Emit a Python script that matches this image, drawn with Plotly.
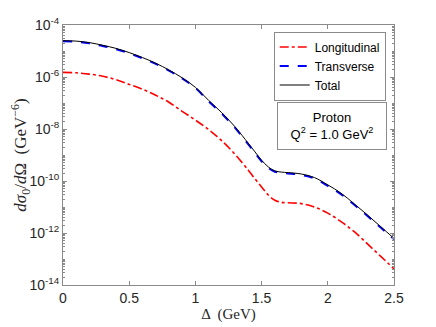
import plotly.graph_objects as go

# values
delta = [0, 0.1, 0.2, 0.3, 0.4, 0.5, 0.6, 0.7, 0.8, 0.9, 1.0, 1.1, 1.2, 1.3, 1.4,
         1.45, 1.5, 1.55, 1.6, 1.65, 1.7, 1.8, 1.9, 2.0, 2.1, 2.2, 2.3, 2.4, 2.5]

longitudinal = [1.51e-6, 1.45e-6, 1.29e-6, 1.07e-6, 7.9e-7, 5.2e-7, 3.4e-7, 2.0e-7,
                1.07e-7, 4.8e-8, 2.2e-8, 9.5e-9, 3.5e-9, 1.05e-9, 2.6e-10,
                1.2e-10, 5.9e-11, 2.9e-11, 1.82e-11, 1.51e-11, 1.45e-11, 1.35e-11,
                1.0e-11, 5.8e-12, 2.75e-12, 1.12e-12, 3.8e-13, 1.26e-13, 4.2e-14]

transverse = [2.35e-5, 2.26e-5, 1.97e-5, 1.55e-5, 1.18e-5, 8.2e-6, 5.26e-6, 3.2e-6,
              1.75e-6, 8.8e-7, 3.78e-7, 1.17e-7, 3.85e-8, 1.1e-8, 2.54e-9,
              1.2e-9, 5.7e-10, 3.2e-10, 2.27e-10, 2.05e-10, 1.95e-10, 1.72e-10,
              1.25e-10, 6.5e-11, 3.1e-11, 1.21e-11, 4.5e-12, 1.61e-12, 5.8e-13]

total = [2.5e-5, 2.4e-5, 2.1e-5, 1.66e-5, 1.26e-5, 8.7e-6, 5.6e-6, 3.4e-6,
         1.86e-6, 9.3e-7, 4.0e-7, 1.26e-7, 4.2e-8, 1.2e-8, 2.8e-9,
         1.32e-9, 6.3e-10, 3.5e-10, 2.45e-10, 2.2e-10, 2.1e-10, 1.86e-10,
         1.35e-10, 7.1e-11, 3.4e-11, 1.32e-11, 4.9e-12, 1.74e-12, 6.2e-13]

x_ticks = [0, 0.5, 1, 1.5, 2, 2.5]
x_ticktext = ["0", "0.5", "1", "1.5", "2", "2.5"]
y_ticks = [1e-4, 1e-6, 1e-8, 1e-10, 1e-12, 1e-14]
y_ticktext = ["10<sup>-4</sup>", "10<sup>-6</sup>", "10<sup>-8</sup>",
              "10<sup>-10</sup>", "10<sup>-12</sup>", "10<sup>-14</sup>"]

# log minor ticks 2..9 in every decade plus the odd decades
y_minor = [m * 10.0 ** e for e in range(-14, -4) for m in range(2, 10)]
y_minor += [10.0 ** e for e in (-13, -11, -9, -7, -5)]

sans = "Liberation Sans, Arial, sans-serif"
serif = "Liberation Serif, DejaVu Serif, serif"
axis_col = "#8a8a8a"
text_col = "#262626"

fig = go.Figure()
fig.add_trace(go.Scatter(x=delta, y=longitudinal, name="Longitudinal", mode="lines",
                         line=dict(color="#ff0000", width=1.6, dash="dashdot", shape="spline")))
fig.add_trace(go.Scatter(x=delta, y=transverse, name="Transverse", mode="lines",
                         line=dict(color="#0000ff", width=2, dash="dash", shape="spline")))
fig.add_trace(go.Scatter(x=delta, y=total, name="Total", mode="lines",
                         line=dict(color="#000000", width=1, shape="spline")))

# the page body has an 8px margin, so the figure is 8px smaller and margins shifted
fig.update_layout(
    width=428, height=319,
    margin=dict(l=55, r=42, t=17, b=42, autoexpand=False),
    plot_bgcolor="white", paper_bgcolor="white",
    font=dict(family=sans, size=14, color=text_col),
    legend=dict(x=0.975, y=0.975, xanchor="right", yanchor="top",
                bgcolor="white", bordercolor=axis_col, borderwidth=1,
                font=dict(size=12, color="#000000"), tracegroupgap=0,
                itemwidth=30),
    showlegend=True,
)

fig.update_xaxes(
    range=[0, 2.5], tickvals=x_ticks, ticktext=x_ticktext,
    ticks="inside", ticklen=4, tickcolor=axis_col, automargin=False,
    showline=True, linecolor=axis_col, linewidth=1, mirror="ticks",
    showgrid=False, zeroline=False,
    title=dict(text="Δ  (GeV)", font=dict(family=serif, size=15, color=text_col), standoff=2),
)

fig.update_yaxes(
    type="log", range=[-14, -4], tickvals=y_ticks, ticktext=y_ticktext,
    ticks="inside", ticklen=4, tickcolor=axis_col, automargin=False,
    showline=True, linecolor=axis_col, linewidth=1, mirror="ticks",
    showgrid=False, zeroline=False,
    minor=dict(ticks="inside", ticklen=2, tickcolor=axis_col, tickmode="array",
               tickvals=y_minor, showgrid=False),
    title=dict(text="<i>dσ</i><sub>0</sub>/<i>d</i>Ω  (GeV<sup>−6</sup>)",
               font=dict(family=serif, size=17, color=text_col), standoff=2),
)

fig.add_annotation(
    x=0.812, y=0.705, xref="paper", yref="paper", xanchor="center", yanchor="top",
    text="Proton<br>Q<sup>2</sup> = 1.0 GeV<sup>2</sup>", showarrow=False,
    font=dict(family=sans, size=13, color="#000000"),
    bordercolor=axis_col, borderwidth=1, borderpad=7, bgcolor="white",
    width=94, align="center",
)

fig.write_html("out.html")
